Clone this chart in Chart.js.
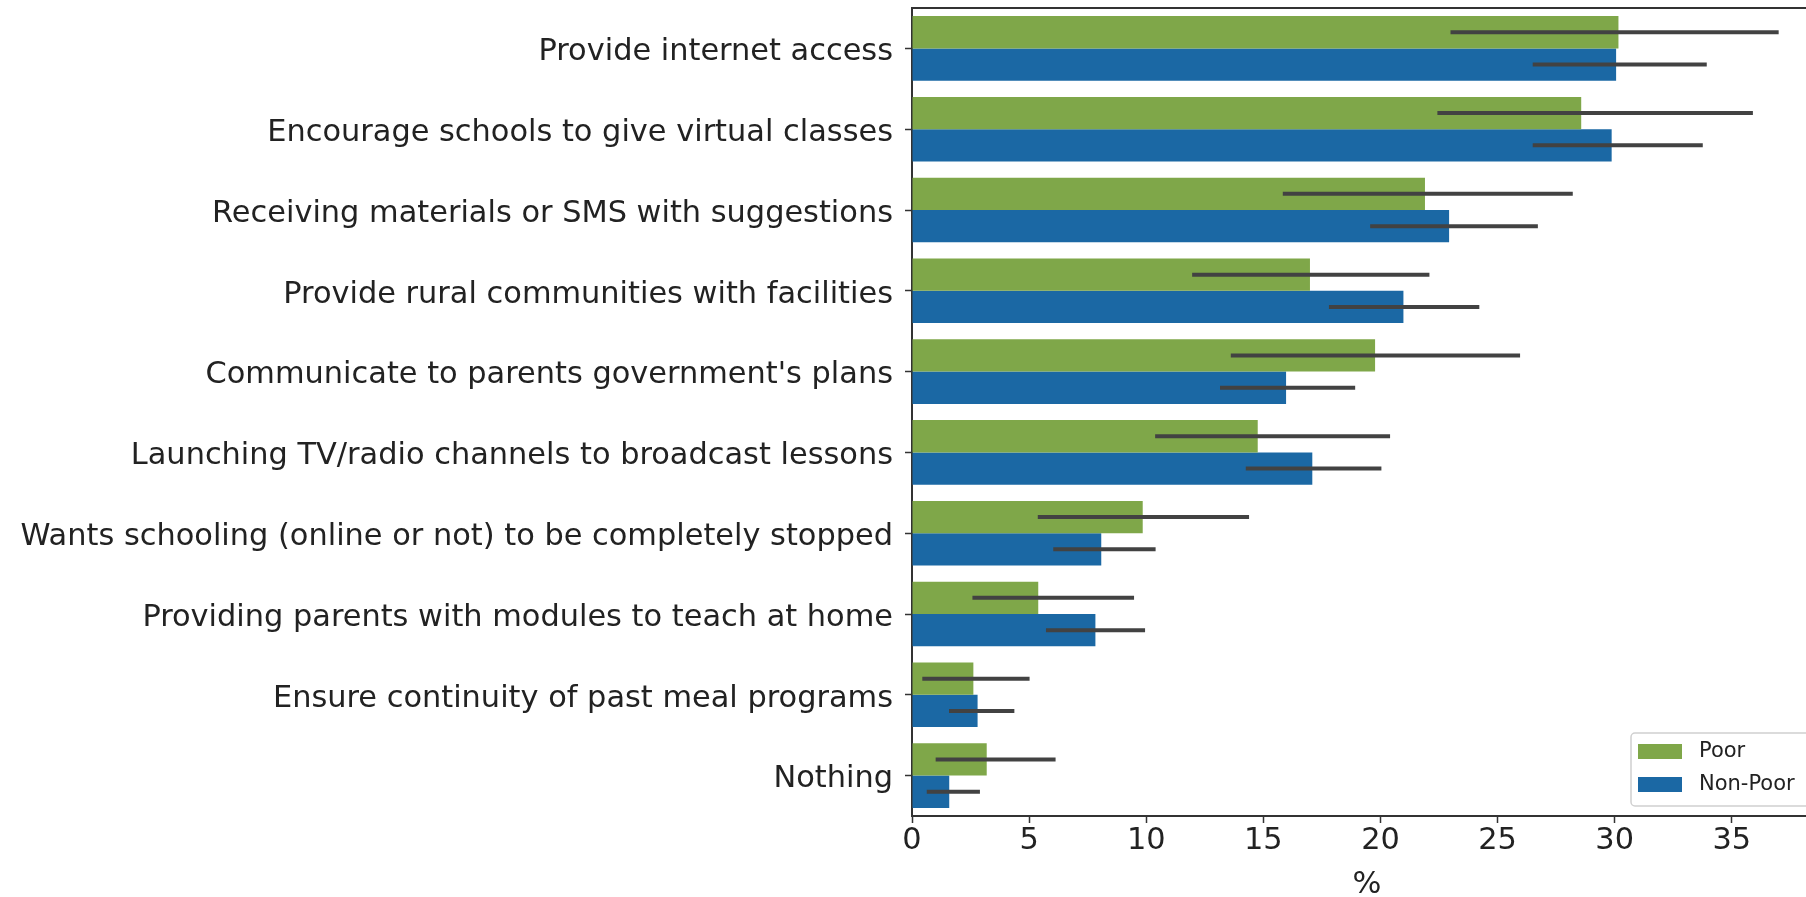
<!DOCTYPE html>
<html>
<head>
<meta charset="utf-8">
<script src="https://cdn.jsdelivr.net/npm/chart.js@4/dist/chart.umd.min.js"></script>
<style>
  html, body { margin: 0; padding: 0; overflow: hidden; background: #fff; }
  #wrap { position: absolute; left: 0; top: 0; width: 1830px; height: 897px; }
</style>
</head>
<body>
<div id="wrap"><canvas id="c" width="1830" height="897"></canvas></div>
<script>
const categories = [
  "Provide internet access",
  "Encourage schools to give virtual classes",
  "Receiving materials or SMS with suggestions",
  "Provide rural communities with facilities",
  "Communicate to parents government's plans",
  "Launching TV/radio channels to broadcast lessons",
  "Wants schooling (online or not) to be completely stopped",
  "Providing parents with modules to teach at home",
  "Ensure continuity of past meal programs",
  "Nothing"
];
const seriesNames = ["Poor", "Non-Poor"];
const poor      = [30.16, 28.57, 21.90, 16.99, 19.77, 14.76, 9.85, 5.39, 2.62, 3.19];
const poorLo    = [22.99, 22.43, 15.83, 11.96, 13.61, 10.38, 5.37, 2.58, 0.44, 1.01];
const poorHi    = [37.00, 35.90, 28.21, 22.09, 25.96, 20.41, 14.39, 9.48, 5.02, 6.13];
const nonPoor   = [30.06, 29.87, 22.93, 20.98, 15.97, 17.09, 8.08, 7.83, 2.80, 1.59];
const nonPoorLo = [26.50, 26.50, 19.56, 17.80, 13.15, 14.25, 6.03, 5.72, 1.58, 0.63];
const nonPoorHi = [33.93, 33.76, 26.72, 24.22, 18.92, 20.04, 10.40, 9.95, 4.37, 2.90];
const xTicks = [0, 5, 10, 15, 20, 25, 30, 35];
const xMax = 38.85;
const xLabel = "%";

const GREEN = "rgb(127,167,73)";
const BLUE = "rgb(27,104,164)";
const SPINE = "#333333";
const FONT = "'DejaVu Sans', 'Liberation Sans', sans-serif";

const errorBars = [[poorLo, poorHi], [nonPoorLo, nonPoorHi]];

const errPlugin = {
  id: "errbars",
  afterDatasetsDraw(chart) {
    const ctx = chart.ctx;
    const xs = chart.scales.x;
    ctx.save();
    ctx.strokeStyle = "#424242";
    ctx.lineWidth = 4;
    ctx.lineCap = "butt";
    chart.data.datasets.forEach((ds, di) => {
      const meta = chart.getDatasetMeta(di);
      const [lo, hi] = errorBars[di];
      meta.data.forEach((bar, i) => {
        ctx.beginPath();
        ctx.moveTo(xs.getPixelForValue(lo[i]), bar.y);
        ctx.lineTo(xs.getPixelForValue(hi[i]), bar.y);
        ctx.stroke();
      });
    });
    ctx.restore();
  },
  afterDraw(chart) {
    const ctx = chart.ctx;
    const a = chart.chartArea;
    ctx.save();
    // top spine
    ctx.strokeStyle = SPINE;
    ctx.lineWidth = 2;
    ctx.beginPath();
    ctx.moveTo(a.left - 1, a.top);
    ctx.lineTo(a.right, a.top);
    ctx.stroke();
    // legend (lower right, inside the axes)
    const bx = 1631, by = 733, bw = 190, bh = 73;
    ctx.fillStyle = "rgba(255,255,255,0.85)";
    ctx.strokeStyle = "#d0d0d0";
    ctx.lineWidth = 1.5;
    ctx.beginPath();
    if (ctx.roundRect) ctx.roundRect(bx, by, bw, bh, 4); else ctx.rect(bx, by, bw, bh);
    ctx.fill();
    ctx.stroke();
    ctx.font = "21px " + FONT;
    ctx.textBaseline = "middle";
    ctx.textAlign = "left";
    chart.data.datasets.forEach((ds, di) => {
      const y = by + 19 + di * 33;
      ctx.fillStyle = ds.backgroundColor;
      ctx.fillRect(bx + 7, y - 8, 44, 15);
      ctx.fillStyle = "#222";
      ctx.fillText(ds.label, bx + 68, y);
    });
    ctx.restore();
  }
};

function zeroPad(s) {
  s.paddingTop = 0; s.paddingBottom = 0; s.paddingLeft = 0; s.paddingRight = 0;
}

new Chart(document.getElementById("c"), {
  type: "bar",
  data: {
    labels: categories,
    datasets: [
      { label: seriesNames[0], data: poor, backgroundColor: GREEN, borderWidth: 0 },
      { label: seriesNames[1], data: nonPoor, backgroundColor: BLUE, borderWidth: 0 }
    ]
  },
  options: {
    indexAxis: "y",
    responsive: false,
    animation: false,
    devicePixelRatio: 1,
    layout: { autoPadding: false, padding: { top: 8, right: 8, left: 0, bottom: 0 } },
    datasets: { bar: { categoryPercentage: 0.8, barPercentage: 1.0 } },
    plugins: { legend: { display: false }, tooltip: { enabled: false } },
    scales: {
      x: {
        type: "linear",
        min: 0,
        max: xMax,
        afterBuildTicks(s) { s.ticks = xTicks.map(v => ({ value: v })); },
        afterFit(s) { s.height = 81; zeroPad(s); },
        ticks: {
          font: { family: FONT, size: 30.4 },
          color: "#222",
          padding: 0,
          maxRotation: 0,
          callback: (v) => String(v)
        },
        grid: { display: true, drawOnChartArea: false, drawTicks: true, tickLength: 7, tickColor: SPINE, tickWidth: 1.5 },
        border: { display: true, color: SPINE, width: 2 },
        title: { display: true, text: xLabel, font: { family: FONT, size: 30.4, lineHeight: 1 }, color: "#222", padding: { top: 0, bottom: -3 } }
      },
      y: {
        type: "category",
        afterFit(s) { s.width = 912; zeroPad(s); },
        ticks: {
          font: { family: FONT, size: 30.4 },
          color: "#222",
          padding: 12,
          labelOffset: 4,
          autoSkip: false
        },
        grid: { display: true, offset: false, drawOnChartArea: false, drawTicks: true, tickLength: 7, tickColor: SPINE, tickWidth: 1.5 },
        border: { display: true, color: SPINE, width: 2 }
      }
    }
  },
  plugins: [errPlugin]
});
</script>
</body>
</html>
